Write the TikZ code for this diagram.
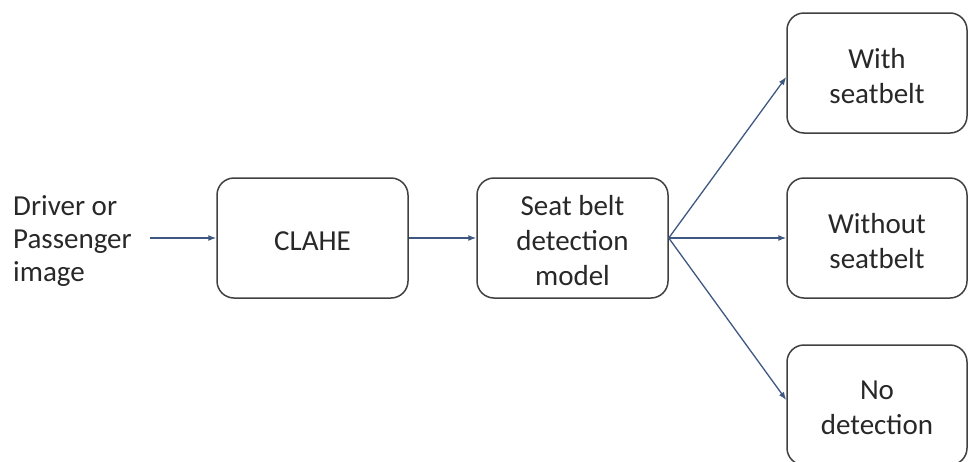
\documentclass[tikz,border=0pt]{standalone}
\usepackage{fontspec}
\setmainfont{Carlito}
\usetikzlibrary{arrows.meta,calc}
\definecolor{boxline}{RGB}{64,64,64}
\definecolor{arrowc}{RGB}{62,88,130}
\definecolor{txt}{RGB}{40,40,40}
\begin{document}
\begin{tikzpicture}[x=1pt,y=-1pt,
  txtlab/.style={align=center,text=txt,font=\fontsize{29}{35}\selectfont,inner sep=0pt,yshift=-3pt},
  box/.style={draw=boxline,line width=1.5pt,rounded corners=17pt,minimum width=191pt,minimum height=120pt,inner sep=0pt},
  outbox/.style={box,minimum width=180pt},
  conn/.style={draw=arrowc,line width=1.3pt,-{Latex[length=8pt,width=6pt]}}]
\useasboundingbox (0,0) rectangle (969,461);
\clip (0,0) rectangle (969,461);
\node[box,label={[txtlab]center:CLAHE}] (clahe) at (312.5,238) {};
\node[box,label={[txtlab]center:Seat belt\\detection\\model}] (model) at (572.5,238) {};
\node[outbox,label={[txtlab]center:With\\seatbelt}] (with) at (877,73) {};
\node[outbox,label={[txtlab]center:Without\\seatbelt}] (without) at (877,238) {};
\node[outbox,label={[txtlab]center:No\\detection}] (nodet) at (877,405) {};
\node[anchor=west,align=left,font=\fontsize{29}{33}\selectfont,text=txt,inner sep=0pt] (input) at (13,241) {Driver or\\Passenger\\image};
\coordinate (start) at (150,238);
\draw[conn] (start) -- (clahe.west);
\draw[conn] (clahe.east) -- (model.west);
\draw[conn] (model.east) -- ($(with.west)+(0,4)$);
\draw[conn] (model.east) -- (without.west);
\draw[conn] (model.east) -- ($(nodet.west)+(0,-5)$);
\end{tikzpicture}
\end{document}
